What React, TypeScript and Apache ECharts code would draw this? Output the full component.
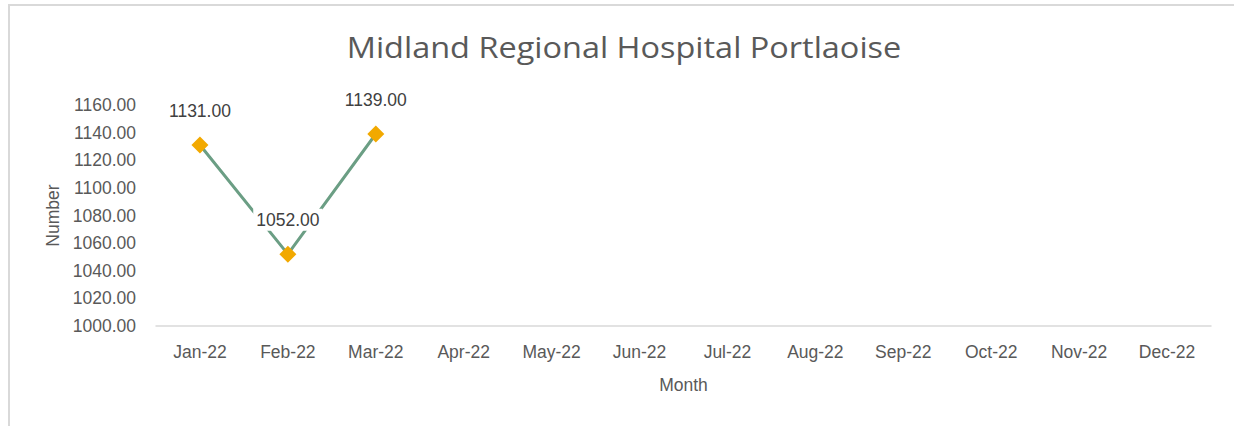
import React, { useEffect, useRef } from "react";
import * as echarts from "echarts";

const titleText = "Midland Regional Hospital Portlaoise";
const months = ["Jan-22", "Feb-22", "Mar-22", "Apr-22", "May-22", "Jun-22", "Jul-22", "Aug-22", "Sep-22", "Oct-22", "Nov-22", "Dec-22"];
const values: (number | null)[] = [1131, 1052, 1139, null, null, null, null, null, null, null, null, null];
const yMin = 1000;
const yMax = 1160;
const yStep = 20;

export default function App() {
  const ref = useRef<HTMLDivElement>(null);
  useEffect(() => {
    if (!ref.current) return;
    const chart = echarts.init(ref.current, undefined, { renderer: "svg" });
    const font = "'Liberation Sans', Arial, sans-serif";
    const fs = 17.5;
    chart.setOption({
      animation: false,
      backgroundColor: "#ffffff",
      graphic: [
        {
          type: "rect",
          shape: { x: 9, y: 5, width: 1240, height: 440 },
          style: { fill: "none", stroke: "#d9d9d9", lineWidth: 2 },
          silent: true,
        },
        {
          type: "text",
          x: 624,
          y: 47,
          scaleX: 1.12,
          silent: true,
          style: {
            text: titleText,
            align: "center",
            verticalAlign: "middle",
            fontFamily: "'Open Sans', sans-serif",
            fontSize: 29,
            fill: "#595959",
          },
        },
      ],
      grid: { left: 156, right: 23, top: 105, bottom: 100 },
      xAxis: {
        type: "category",
        data: months,
        boundaryGap: true,
        name: "Month",
        nameLocation: "middle",
        nameGap: 50,
        nameTextStyle: { fontFamily: font, fontSize: fs, color: "#595959" },
        axisLine: { show: true, lineStyle: { color: "#d9d9d9", width: 1.5 } },
        axisTick: { show: false },
        axisLabel: { fontFamily: font, fontSize: fs, color: "#595959", margin: 17 },
      },
      yAxis: {
        type: "value",
        min: yMin,
        max: yMax,
        interval: yStep,
        name: "Number",
        nameLocation: "middle",
        nameRotate: 90,
        nameGap: 94,
        nameTextStyle: { fontFamily: font, fontSize: fs, color: "#595959" },
        axisLine: { show: false },
        axisTick: { show: false },
        splitLine: { show: false },
        axisLabel: {
          fontFamily: font,
          fontSize: fs,
          color: "#595959",
          margin: 20,
          formatter: (v: number) => v.toFixed(2),
        },
      },
      series: [
        {
          type: "line",
          data: values,
          connectNulls: false,
          lineStyle: { color: "#6b9e84", width: 3 },
          symbol: "diamond",
          symbolSize: 17,
          itemStyle: { color: "#f2a900" },
          label: {
            show: true,
            position: "top",
            distance: 15,
            fontFamily: font,
            fontSize: fs,
            color: "#404040",
            backgroundColor: "#ffffff",
            padding: [2, 3],
            formatter: (p: any) => Number(p.value).toFixed(2),
          },
        },
      ],
    });
    return () => chart.dispose();
  }, []);
  return (
    <div
      ref={ref}
      style={{ position: "fixed", left: 0, top: 0, width: 1234, height: 426 }}
    />
  );
}
